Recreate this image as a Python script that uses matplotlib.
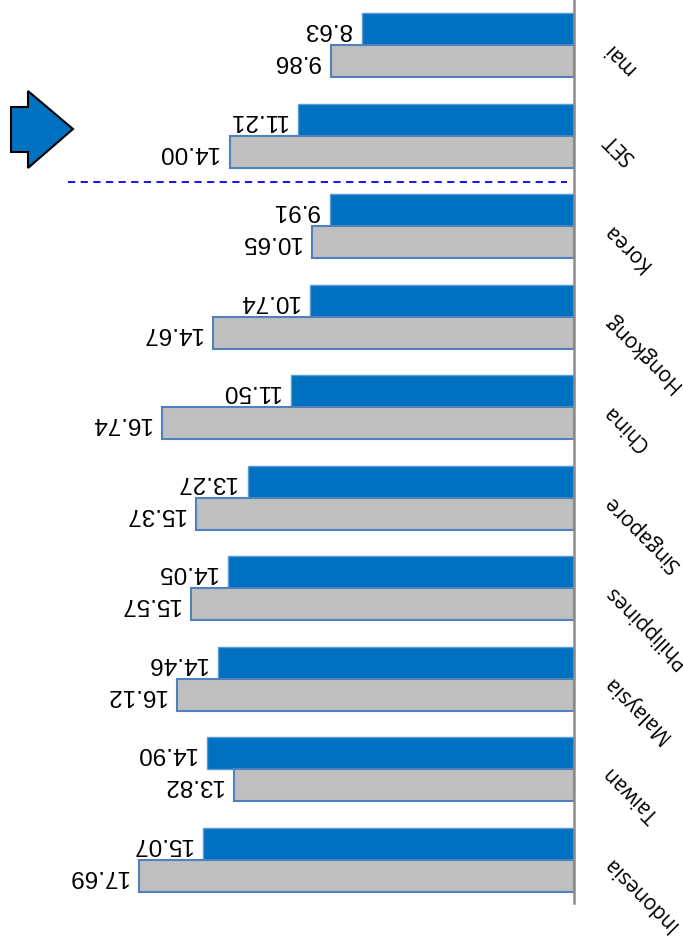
import matplotlib
matplotlib.use("Agg")
import matplotlib.pyplot as plt
from matplotlib.patches import Polygon

categories = ["mai", "SET", "Korea", "Hongkong", "China", "Singapore",
              "Philippines", "Malaysia", "Taiwan", "Indonesia"]
series_blue = [8.63, 11.21, 9.91, 10.74, 11.50, 13.27, 14.05, 14.46, 14.90, 15.07]
series_gray = [9.86, 14.00, 10.65, 14.67, 16.74, 15.37, 15.57, 16.12, 13.82, 17.69]

W, H = 683, 942
fig = plt.figure(figsize=(W / 100, H / 100), dpi=100)
ax = fig.add_axes([0, 0, 1, 1])

px_per_unit = 24.6
x0 = 574
pitch = 90.5
y0 = 45.3
ax.set_xlim(x0 / px_per_unit, -(W - x0) / px_per_unit)
ax.set_ylim((H - y0) / pitch, -y0 / pitch)
ax.axis("off")

bh = 0.355
idx = list(range(len(categories)))
ax.barh([i - bh / 2 for i in idx], series_blue, height=bh, color="#0070C0",
        edgecolor="#5B9BD5", linewidth=1.0, zorder=2)
ax.barh([i + bh / 2 for i in idx], series_gray, height=bh, color="#BFBFBF",
        edgecolor="#4F81BD", linewidth=1.5, zorder=2)

gap = 0.45
for i in idx:
    ax.text(series_blue[i] + gap, i - bh / 2, f"{series_blue[i]:.2f}", rotation=180,
            rotation_mode="anchor", ha="left", va="center", fontsize=17.5,
            family="Liberation Sans", color="black")
    ax.text(series_gray[i] + gap, i + bh / 2, f"{series_gray[i]:.2f}", rotation=180,
            rotation_mode="anchor", ha="left", va="center", fontsize=17.5,
            family="Liberation Sans", color="black")
    ax.text(-(607 - x0) / px_per_unit, i, categories[i], rotation=135,
            rotation_mode="anchor", ha="right", va="center", fontsize=15,
            family="Open Sans", color="black")

# vertical axis line
ax.axvline(0, ymin=(H - 903) / H, ymax=1, color="#8C8C8C", linewidth=1.8, zorder=3)

# dashed separator between SET and Korea
ysep = (182 - y0) / pitch
ax.plot([(x0 - 68) / px_per_unit, (x0 - 567) / px_per_unit], [ysep, ysep],
        color="#0000FF", linestyle=(0, (4, 3)), linewidth=1.3)

# block arrow pointing at SET
pts = [(11, 107), (28, 107), (28, 91), (73, 129), (28, 168), (28, 152), (11, 152)]
arrow = Polygon([(x / W, 1 - y / H) for x, y in pts], closed=True,
                transform=fig.transFigure, facecolor="#0070C0",
                edgecolor="black", linewidth=1.5)
fig.patches.append(arrow)

fig.savefig("out.png", dpi=100, facecolor="white")
